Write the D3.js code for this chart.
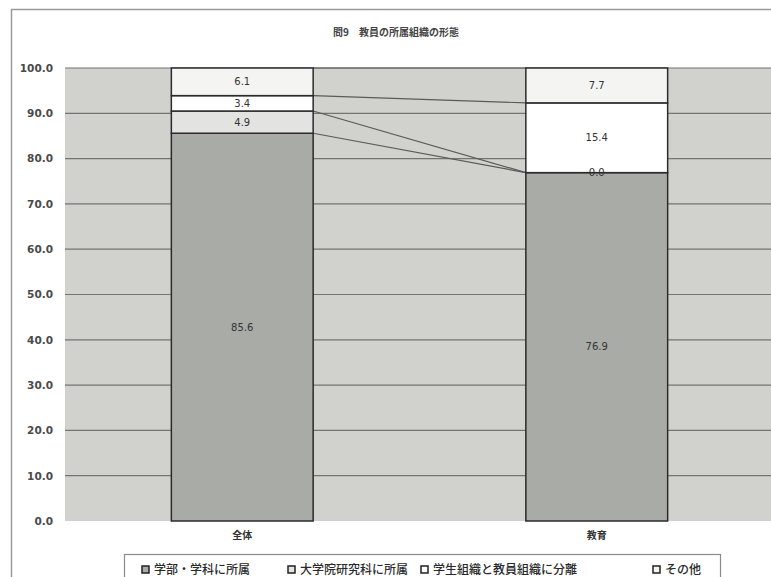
<!DOCTYPE html>
<html lang="ja">
<head>
<meta charset="utf-8">
<script src="https://cdn.jsdelivr.net/npm/d3@7"></script>
<style>
  html, body { margin: 0; padding: 0; background: #ffffff; }
  svg { display: block; font-family: "Noto Sans CJK JP", "Noto Sans", sans-serif; }
</style>
</head>
<body>
<svg id="chart" width="771" height="577"></svg>
<script>
// Categories and stacked series (percent)
const categories = ["全体", "教育"];
const seriesNames = ["学部・学科に所属", "大学院研究科に所属", "学生組織と教員組織に分離", "その他"];
const s1 = [85.6, 76.9];
const s2 = [4.9, 0.0];
const s3 = [3.4, 15.4];
const s4 = [6.1, 7.7];
const yTicks = [0, 10, 20, 30, 40, 50, 60, 70, 80, 90, 100];
const title = "問9　教員の所属組織の形態";

const seriesValues = [s1, s2, s3, s4];
const fills = ["#a9aba7", "#e3e4e1", "#ffffff", "#f4f4f2"];

const svg = d3.select("#chart");

// outer frame of the chart
svg.append("rect")
  .attr("x", 11.5).attr("y", 9.5)
  .attr("width", 800).attr("height", 600)
  .attr("fill", "#ffffff").attr("stroke", "#9a9a9a").attr("stroke-width", 1.5);

const plot = { left: 65, right: 774, top: 68, bottom: 521 };

const x = d3.scaleBand().domain(categories)
  .range([plot.left, plot.right]).paddingInner(0.6).paddingOuter(0.3);
const y = d3.scaleLinear().domain([0, 100]).range([plot.bottom, plot.top]);

// plot background
svg.append("rect")
  .attr("x", plot.left).attr("y", plot.top)
  .attr("width", plot.right - plot.left).attr("height", plot.bottom - plot.top)
  .attr("fill", "#d1d2ce");

// gridlines
svg.append("g").selectAll("line").data(yTicks.slice(1)).join("line")
  .attr("x1", plot.left).attr("x2", plot.right)
  .attr("y1", d => y(d)).attr("y2", d => y(d))
  .attr("stroke", "#747472").attr("stroke-width", 1.2);

// y axis labels
const yAxis = d3.axisLeft(y).tickValues(yTicks).tickFormat(d3.format(".1f")).tickSize(0).tickPadding(12);
const yg = svg.append("g").attr("transform", `translate(${plot.left},0)`).call(yAxis);
yg.select(".domain").remove();
yg.selectAll("text").attr("font-size", 10.5).attr("font-weight", "bold").attr("fill", "#4a4a4a")
  .attr("font-family", "'DejaVu Sans', sans-serif");

// stacked data
const rows = categories.map((c, i) => {
  const r = { cat: c };
  seriesNames.forEach((n, k) => r[n] = seriesValues[k][i]);
  return r;
});
const stack = d3.stack().keys(seriesNames)(rows);

// series lines between the bars
stack.forEach(layer => {
  const a = layer[0], b = layer[1];
  svg.append("line")
    .attr("x1", x(categories[0]) + x.bandwidth()).attr("y1", y(a[1]))
    .attr("x2", x(categories[1])).attr("y2", y(b[1]))
    .attr("stroke", "#5a5a58").attr("stroke-width", 1.2);
});

// bars
stack.forEach((layer, k) => {
  svg.append("g").selectAll("rect").data(layer).join("rect")
    .attr("x", d => x(d.data.cat))
    .attr("y", d => y(d[1]))
    .attr("width", x.bandwidth())
    .attr("height", d => y(d[0]) - y(d[1]))
    .attr("fill", fills[k])
    .attr("stroke", "#2b2b2b").attr("stroke-width", 1.5);
});

// value labels
stack.forEach(layer => {
  svg.append("g").selectAll("text").data(layer).join("text")
    .attr("x", d => x(d.data.cat) + x.bandwidth() / 2)
    .attr("y", d => y((d[0] + d[1]) / 2))
    .attr("dy", "0.35em")
    .attr("text-anchor", "middle")
    .attr("font-size", 10).attr("fill", "#333")
    .attr("font-family", "'DejaVu Sans', sans-serif")
    .text(d => d3.format(".1f")(d[1] - d[0]));
});

// category labels
svg.append("g").selectAll("text").data(categories).join("text")
  .attr("x", d => x(d) + x.bandwidth() / 2)
  .attr("y", plot.bottom + 18)
  .attr("text-anchor", "middle")
  .attr("font-size", 10).attr("font-weight", "bold").attr("fill", "#333")
  .text(d => d);

// title
svg.append("text")
  .attr("x", 396).attr("y", 36)
  .attr("text-anchor", "middle")
  .attr("font-size", 10).attr("font-weight", "bold").attr("fill", "#444")
  .text(title);

// legend
const legend = svg.append("g");
legend.append("rect")
  .attr("x", 124.5).attr("y", 554.5).attr("width", 596).attr("height", 40)
  .attr("fill", "#ffffff").attr("stroke", "#8a8a8a").attr("stroke-width", 1.2);
const legendX = [142, 288, 421, 653];
seriesNames.forEach((n, k) => {
  legend.append("rect")
    .attr("x", legendX[k]).attr("y", 566).attr("width", 7).attr("height", 7)
    .attr("fill", fills[k]).attr("stroke", "#222").attr("stroke-width", 1.5);
  legend.append("text")
    .attr("x", legendX[k] + 12).attr("y", 574)
    .attr("font-size", 12).attr("font-weight", 500).attr("fill", "#2a2a2a")
    .text(n);
});
</script>
</body>
</html>
